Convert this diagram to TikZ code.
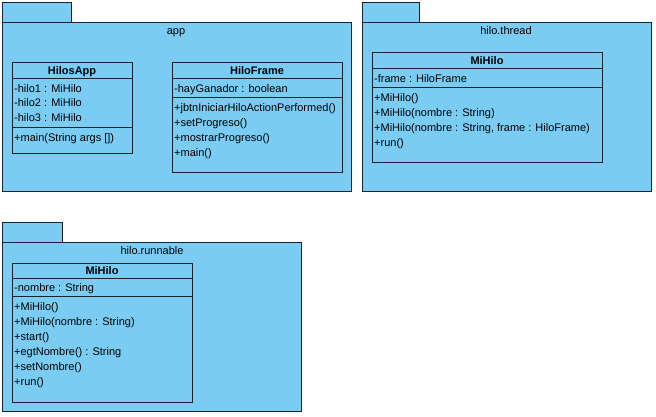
\documentclass[tikz,border=0pt]{standalone}
\usepackage{fontspec}
\setmainfont{Liberation Sans}
\usetikzlibrary{positioning}
\definecolor{pkgblue}{RGB}{122,204,242}
\definecolor{umlline}{RGB}{25,35,45}

\begin{document}
\begin{tikzpicture}[x=1bp, y=-1bp,
    font=\fontsize{11bp}{13bp}\selectfont,
    pkg/.style={draw=umlline, fill=pkgblue, line width=1bp, inner sep=0pt, outer sep=0pt, anchor=north west},
    part/.style={draw=umlline, fill=pkgblue, line width=1bp, inner sep=0pt, outer sep=0pt, anchor=north west},
    pkgname/.style={anchor=base, inner sep=0pt},
    classname/.style={anchor=base, inner sep=0pt, font=\fontsize{11bp}{13bp}\selectfont\bfseries},
    member/.style={anchor=base west, inner sep=0pt}
]
    \useasboundingbox (0,0) rectangle (656,416);

    % Package app
    \node[pkg, minimum width=69bp, minimum height=20bp] (apptab) at (2,2) {};
    \node[pkg, minimum width=349bp, minimum height=169bp, below right=0pt of apptab.south west] (app) {};
    \node[pkgname] (appname) at (176,34) {app};

    % Class HilosApp
    \node[part, minimum width=120bp, minimum height=16bp] (hilosapp) at (12,62) {};
    \node[part, minimum width=120bp, minimum height=49bp, below right=0pt of hilosapp.south west] (hilosappattr) {};
    \node[part, minimum width=120bp, minimum height=26bp, below right=0pt of hilosappattr.south west] (hilosappops) {};
    \node[classname] at (72,74) {HilosApp};
    \node[member] at (14,92) {-hilo1 : MiHilo};
    \node[member] at (14,106.5) {-hilo2 : MiHilo};
    \node[member] at (14,121.5) {-hilo3 : MiHilo};
    \node[member] at (14,141) {+main(String args [])};

    % Class HiloFrame
    \node[part, minimum width=170bp, minimum height=16bp] (hiloframe) at (172,62) {};
    \node[part, minimum width=170bp, minimum height=19bp, below right=0pt of hiloframe.south west] (hiloframeattr) {};
    \node[part, minimum width=170bp, minimum height=75bp, below right=0pt of hiloframeattr.south west] (hiloframeops) {};
    \node[classname] at (257,74) {HiloFrame};
    \node[member] at (174,92) {-hayGanador : boolean};
    \node[member] at (174,111) {+jbtnIniciarHiloActionPerformed()};
    \node[member] at (174,126) {+setProgreso()};
    \node[member] at (174,141) {+mostrarProgreso()};
    \node[member] at (174,156) {+main()};

    % Package hilo.thread
    \node[pkg, minimum width=57bp, minimum height=20bp] (threadtab) at (362,2) {};
    \node[pkg, minimum width=289bp, minimum height=169bp, below right=0pt of threadtab.south west] (thread) {};
    \node[pkgname] (threadname) at (506,34) {hilo.thread};

    % Class MiHilo (thread)
    \node[part, minimum width=230bp, minimum height=16bp] (mihilot) at (372,52) {};
    \node[part, minimum width=230bp, minimum height=19bp, below right=0pt of mihilot.south west] (mihilotattr) {};
    \node[part, minimum width=230bp, minimum height=75bp, below right=0pt of mihilotattr.south west] (mihilotops) {};
    \node[classname] at (487,64) {MiHilo};
    \node[member] at (374,82) {-frame : HiloFrame};
    \node[member] at (374,101) {+MiHilo()};
    \node[member] at (374,116) {+MiHilo(nombre : String)};
    \node[member] at (374,131) {+MiHilo(nombre : String, frame : HiloFrame)};
    \node[member] at (374,146) {+run()};

    % Package hilo.runnable
    \node[pkg, minimum width=60bp, minimum height=20bp] (runtab) at (2,222) {};
    \node[pkg, minimum width=299bp, minimum height=169bp, below right=0pt of runtab.south west] (runnable) {};
    \node[pkgname] (runname) at (152,254) {hilo.runnable};

    % Class MiHilo (runnable)
    \node[part, minimum width=180bp, minimum height=15bp] (mihilor) at (12,263) {};
    \node[part, minimum width=180bp, minimum height=18bp, below right=0pt of mihilor.south west] (mihilorattr) {};
    \node[part, minimum width=180bp, minimum height=106bp, below right=0pt of mihilorattr.south west] (mihilorops) {};
    \node[classname] at (102,274.5) {MiHilo};
    \node[member] at (14,291) {-nombre : String};
    \node[member] at (14,310) {+MiHilo()};
    \node[member] at (14,325) {+MiHilo(nombre : String)};
    \node[member] at (14,340) {+start()};
    \node[member] at (14,355) {+egtNombre() : String};
    \node[member] at (14,370) {+setNombre()};
    \node[member] at (14,385) {+run()};

\end{tikzpicture}
\end{document}
